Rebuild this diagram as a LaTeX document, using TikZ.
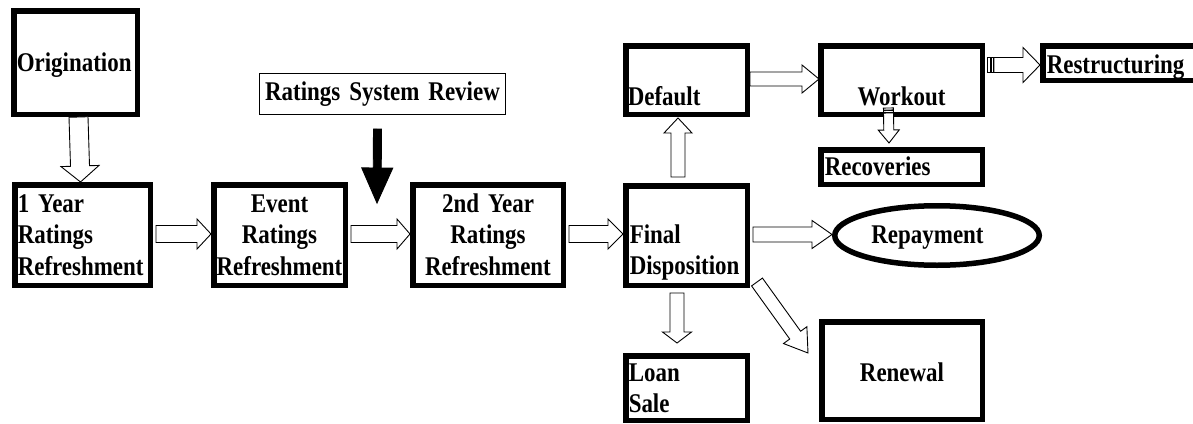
\documentclass[tikz,border=0pt]{standalone}
\usepackage{fontspec}
\setmainfont{Liberation Serif}[FakeStretch=0.85]
\usetikzlibrary{calc,shapes.geometric}

\newcommand{\tightspace}{\spaceskip 4.5pt plus 1pt minus 0.5pt\relax}

\newcommand{\blockarrow}[6]{%
  \coordinate (baS) at #1;
  \coordinate (baE) at #2;
  \coordinate (baH) at ($(baE)!#5pt!(baS)$);
  \draw[blockarrow, fill=#6] ($(baS)!#3pt!90:(baE)$) -- ($(baH)!#3pt!90:(baE)$)
    -- ($(baH)!#4pt!90:(baE)$) -- (baE) -- ($(baH)!#4pt!-90:(baE)$)
    -- ($(baH)!#3pt!-90:(baE)$) -- ($(baS)!#3pt!-90:(baE)$) -- cycle;
}
\newcommand{\armstripe}[5]{%
  \coordinate (stS) at #1;
  \coordinate (stE) at #2;
  \coordinate (stA) at ($(stS)!-#4pt!(stE)$);
  \coordinate (stB) at ($(stS)!-#5pt!(stE)$);
  \draw[blockarrow, fill=white] ($(stA)!#3pt!90:(stE)$) -- ($(stB)!#3pt!90:(stE)$)
    -- ($(stB)!#3pt!-90:(stE)$) -- ($(stA)!#3pt!-90:(stE)$) -- cycle;
}

\begin{document}
\begin{tikzpicture}[x=1pt, y=-1pt,
  boxfont/.style={font={\bfseries\fontsize{27}{31.5}\selectfont\tightspace}},
  box/.style={boxfont, draw, line width=5.5pt, inner ysep=0pt, anchor=north west},
  thinbox/.style={boxfont, draw, line width=1.2pt, inner ysep=0pt, anchor=north west},
  blockarrow/.style={draw, line width=0.9pt, line join=miter}
]
\useasboundingbox (0,0) rectangle (1193,423);
\fill[white] (0,0) rectangle (1193,423);

% boxes (outer corner positions)
\node[box, inner xsep=3pt, text width=117.5pt, text height=60.25pt, text depth=43.25pt, align=left] (orig) at (11,8) {Origination};
\node[box, inner xsep=3pt, text width=129.5pt, text height=27.25pt, text depth=73.25pt, align=left] (y1) at (12,182) {1 Year\\Ratings\\Refreshment};
\node[box, inner xsep=1pt, text width=129.5pt, text height=27.25pt, text depth=73.25pt, align=center] (ev) at (211,182) {Event\\Ratings\\Refreshment};
\node[box, inner xsep=1pt, text width=148.5pt, text height=27.25pt, text depth=73.25pt, align=center] (y2) at (410,182) {2nd Year\\Ratings\\Refreshment};
\node[box, inner xsep=4pt, text width=113.5pt, text height=57.25pt, text depth=42.25pt, align=left] (fin) at (623,183) {Final\\Disposition};
\node[box, inner xsep=2pt, text width=117.5pt, text height=59.25pt, text depth=9.25pt, align=left] (def) at (623,43) {Default};
\node[box, inner xsep=1pt, text width=159.5pt, text height=59.25pt, text depth=9.25pt, align=center] (wo) at (818,43) {Workout};
\node[box, inner xsep=4pt, text width=146.5pt, text height=27.25pt, text depth=7.25pt, align=left] (res) at (1040,43) {Restructuring};
\node[box, inner xsep=4pt, text width=153.5pt, text height=25.25pt, text depth=9.25pt, align=left] (rec) at (818,147) {Recoveries};
\node[box, inner xsep=3pt, text width=115.5pt, text height=25.25pt, text depth=39.25pt, align=left] (loan) at (623,353) {Loan\\Sale};
\node[box, inner xsep=1pt, text width=158.5pt, text height=59.25pt, text depth=38.25pt, align=center] (ren) at (819,319) {Renewal};
\node[thinbox, inner xsep=1pt, text width=243.8pt, text height=26.4pt, text depth=14.4pt, align=center] (rsr) at (259,73) {Ratings System Review};
\node[boxfont, draw, ellipse, line width=5.5pt, inner sep=0pt, minimum width=204.5pt, minimum height=59.5pt, text height=20pt, text depth=5pt] (rep) at (937,235.5) {Repayment\hspace*{19pt}};

\coordinate (rvtip) at (377,203);

% hollow block arrows
\blockarrow{($(orig.south)+(3,0)$)}{($(y1.north)+(-2,0)$)}{9.5}{19}{16}{white}
\blockarrow{($(y1.east)+(3,-1)$)}{($(ev.west)+(0,-1)$)}{8.5}{15}{14}{white}
\blockarrow{($(ev.east)+(3,-1)$)}{($(y2.west)+(0,-1)$)}{8.5}{15}{13}{white}
\blockarrow{($(y2.east)+(3,-1)$)}{($(fin.west)+(0,-1.5)$)}{8.5}{15}{15}{white}
\blockarrow{($(fin.east)+(3,-1)$)}{($(rep.west)+(0,-1)$)}{7.5}{14}{20}{white}
\blockarrow{($(fin.north)+(-8.5,-6)$)}{($(def.south)+(-8.5,1)$)}{7}{14}{15}{white}
\blockarrow{($(def.east)+(0,-1)$)}{($(wo.west)+(1,-1)$)}{7}{14}{17}{white}
\blockarrow{($(wo.east)+(9,-15)$)}{($(res.west)+(0,2)$)}{7.5}{17.5}{17}{white}
\armstripe{($(wo.east)+(9,-15)$)}{($(res.west)+(0,2)$)}{7.5}{0.5}{3}
\armstripe{($(wo.east)+(9,-15)$)}{($(res.west)+(0,2)$)}{7.5}{4}{7}
\blockarrow{($(wo.south)+(-13,-4)$)}{($(rec.north)+(-12.5,-4)$)}{5}{10.5}{13}{white}
\armstripe{($(wo.south)+(-13,-4)$)}{($(rec.north)+(-12.5,-4)$)}{5}{0.5}{2.5}
\armstripe{($(wo.south)+(-13,-4)$)}{($(rec.north)+(-12.5,-4)$)}{5}{3}{5}
\blockarrow{($(fin.south)+(-9.5,5)$)}{($(loan.north)+(-9.5,-10)$)}{7}{14.5}{11}{white}
\blockarrow{($(fin.south east)+(7,-6)$)}{($(ren.north west)+(-11,34)$)}{6.7}{14.4}{22}{white}

% solid black arrow
\blockarrow{($(rsr.south)+(-5,14)$)}{(rvtip)}{4}{15.5}{35}{black}
\end{tikzpicture}
\end{document}
